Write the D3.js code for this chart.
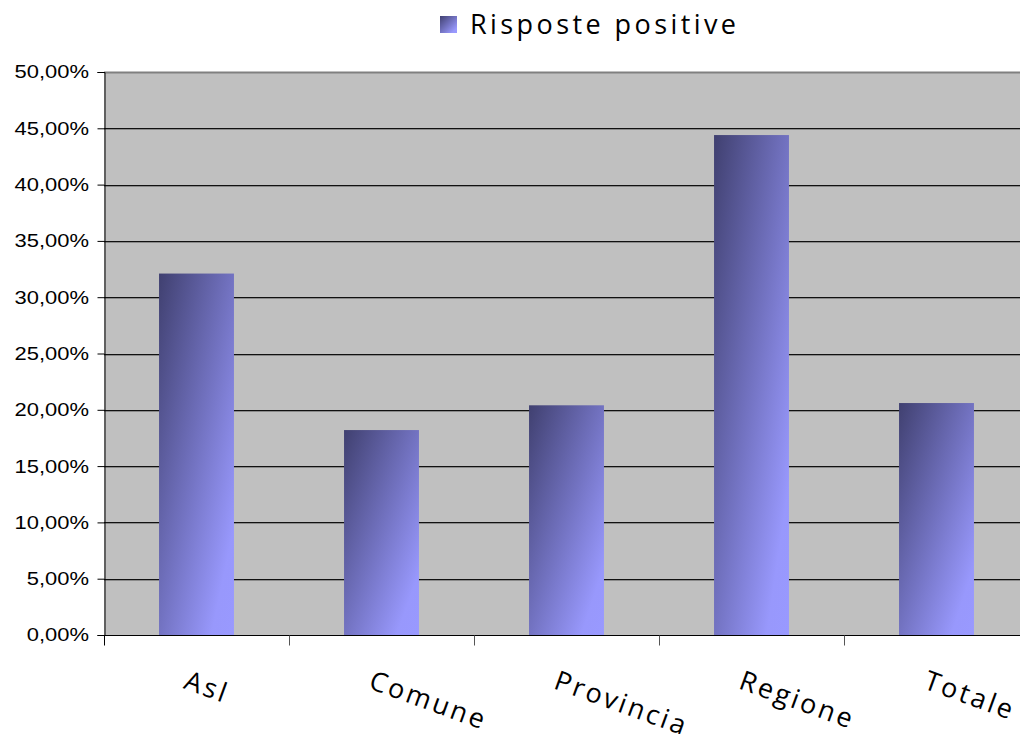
<!DOCTYPE html>
<html><head><meta charset="utf-8">
<script src="https://cdn.jsdelivr.net/npm/d3@7"></script>
<style>html,body{margin:0;padding:0;background:#fff;}svg{display:block;}</style>
</head><body>
<script>
const categories = ["Asl", "Comune", "Provincia", "Regione", "Totale"];
const values = [32.1, 18.2, 20.4, 44.4, 20.6];
const yTicks = [0, 5, 10, 15, 20, 25, 30, 35, 40, 45, 50];
const seriesName = "Risposte positive";

const W = 1020, H = 734;
const m = {left: 104, right: 1029, top: 72, bottom: 635};

const svg = d3.select("body").append("svg").attr("width", W).attr("height", H);

const defs = svg.append("defs");
const grad = defs.append("linearGradient").attr("id", "barGrad")
  .attr("x1", 0).attr("y1", 0).attr("x2", 1).attr("y2", 1);
grad.append("stop").attr("offset", "0").attr("stop-color", "#404070");
grad.append("stop").attr("offset", "0.5").attr("stop-color", "#7373c2");
grad.append("stop").attr("offset", "0.85").attr("stop-color", "#9898fc");
grad.append("stop").attr("offset", "1").attr("stop-color", "#9999ff");

const x = d3.scaleBand().domain(categories).range([m.left, m.right])
  .paddingInner(0.595).paddingOuter(0.2975);
const y = d3.scaleLinear().domain([0, 50]).range([m.bottom, m.top]);

const it = d3.formatLocale({decimal: ",", thousands: ".", grouping: [3], currency: ["", "€"]});
const fmt = v => it.format(".2f")(v) + "%";

// plot background
svg.append("rect").attr("x", m.left).attr("y", m.top)
  .attr("width", m.right - m.left).attr("height", m.bottom - m.top)
  .attr("fill", "#c0c0c0");

// gridlines
const grid = svg.append("g");
yTicks.filter(t => t > 0 && t < 50).forEach(t => {
  const yy = Math.round(y(t)) + 0.5;
  grid.append("line").attr("x1", m.left).attr("x2", m.right).attr("y1", yy).attr("y2", yy)
    .attr("stroke", "#111").attr("stroke-width", 1);
  grid.append("line").attr("x1", m.left).attr("x2", m.right).attr("y1", yy + 1).attr("y2", yy + 1)
    .attr("stroke", "#8a8a8a").attr("stroke-width", 1);
});
// top border
svg.append("line").attr("x1", m.left).attr("x2", m.right)
  .attr("y1", y(50) + 0.5).attr("y2", y(50) + 0.5).attr("stroke", "#808080").attr("stroke-width", 2);

// bars
svg.append("g").selectAll("rect").data(categories).join("rect")
  .attr("x", d => x(d)).attr("width", x.bandwidth())
  .attr("y", (d, i) => y(values[i])).attr("height", (d, i) => y(0) - y(values[i]))
  .attr("fill", "url(#barGrad)");

// y axis
const yAxis = svg.append("g").attr("transform", `translate(${m.left + 0.5},0)`)
  .call(d3.axisLeft(y).tickValues(yTicks).tickFormat("").tickSizeOuter(0).tickSize(7));
yAxis.select(".domain").attr("stroke", "#000");
yAxis.selectAll(".tick line").attr("stroke", "#000");

const yLab = svg.append("g");
yTicks.forEach(t => {
  yLab.append("g").attr("transform", `translate(89,${y(t)}) scale(1.22,1)`)
    .append("text").attr("text-anchor", "end").attr("dy", "0.36em")
    .attr("font-family", "Liberation Sans, Arial, sans-serif").attr("font-size", 18)
    .attr("fill", "#000").text(fmt(t));
});

// x axis
const xAxisG = svg.append("g").attr("transform", `translate(0,${m.bottom + 0.5})`);
xAxisG.append("line").attr("x1", m.left).attr("x2", m.right).attr("stroke", "#000");
const boundaries = categories.map(c => x(c) - x.step() * x.paddingOuter());
boundaries.forEach(b => {
  xAxisG.append("line").attr("x1", Math.round(b) + 0.5).attr("x2", Math.round(b) + 0.5)
    .attr("y1", 0).attr("y2", 10).attr("stroke", b < m.left + 1 ? "#000" : "#555");
});

// x labels
svg.append("g").selectAll("text").data(categories).join("text")
  .attr("transform", d => `translate(${x(d) + x.bandwidth() / 2 - 14},688) rotate(20)`)
  .attr("font-family", "Open Sans, sans-serif").attr("font-size", 27)
  .attr("letter-spacing", 2.8).attr("fill", "#000").text(d => d);

// legend
svg.append("rect").attr("x", 440).attr("y", 16).attr("width", 17).attr("height", 17)
  .attr("fill", "url(#barGrad)");
svg.append("text").attr("x", 470).attr("y", 34)
  .attr("font-family", "Open Sans, sans-serif").attr("font-size", 27)
  .attr("textLength", 266).attr("lengthAdjust", "spacing")
  .attr("fill", "#000").text(seriesName);
</script>
</body></html>
